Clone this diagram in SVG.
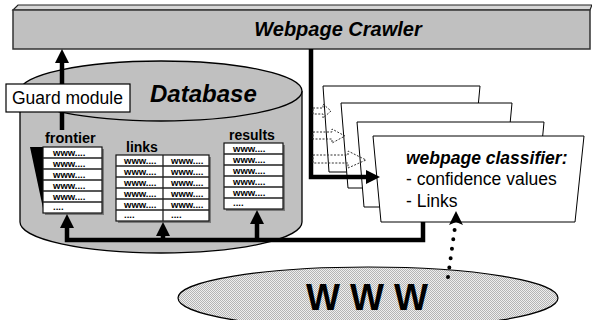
<svg xmlns="http://www.w3.org/2000/svg" width="592" height="320" viewBox="0 0 592 320">
<defs>
<style>
.lbl{font-family:"Liberation Sans",Arial,sans-serif;fill:#000}
.bi{font-weight:bold;font-style:italic}
.b{font-weight:bold}
.cell{font-family:"Liberation Sans",Arial,sans-serif;font-weight:bold;font-size:9.5px;fill:#000}
.tbl{fill:#fff;stroke:#111;stroke-width:1.2}
.row{stroke:#222;stroke-width:1.3}
.shadow{fill:#7a7a7a}
.card{fill:#fff;stroke:#000;stroke-width:1}
.thick{fill:none;stroke:#000;stroke-width:4.5}
.darr{fill:none;stroke:#333;stroke-width:1;stroke-dasharray:2 1.5}
</style>
<marker id="ah" viewBox="0 -7 14 14" refX="0" refY="0" markerWidth="14" markerHeight="14" markerUnits="userSpaceOnUse" orient="auto">
<path d="M0,-7 L14,0 L0,7 z" fill="#000"/>
</marker>
<pattern id="dots" width="2" height="2" patternUnits="userSpaceOnUse">
<rect width="2" height="2" fill="#eeeeee"/>
<rect width="1" height="1" fill="#b4b4b4"/>
<rect x="1" y="1" width="1" height="1" fill="#b4b4b4"/>
</pattern>
</defs>

<g id="crawler">
<polygon points="13,10 18,5 592,5 590,10" fill="#d6d6d6" stroke="#222" stroke-width="1.2"/>
<rect x="13" y="10" width="577" height="39" fill="#c0c0c0" stroke="#333" stroke-width="1.5"/>
<text class="lbl bi" x="338" y="36" font-size="20" text-anchor="middle">Webpage Crawler</text>
</g>

<g id="database">
<path d="M20,91 V222 A141,31 0 0 0 302,222 V91" fill="#c0c0c0" stroke="#000" stroke-width="1.3"/>
<ellipse cx="161" cy="91" rx="141" ry="30" fill="#c0c0c0" stroke="#000" stroke-width="1.3"/>
<text class="lbl bi" x="150" y="102" font-size="24">Database</text>
</g>

<g id="frontier">
<polygon points="30,147 44,147 44,213" fill="#000"/>
<rect class="shadow" x="45" y="149" width="59" height="66"/>
<rect class="tbl" x="43" y="147" width="59" height="66"/>
<path class="row" d="M43,158H102M43,169H102M43,180H102M43,191H102M43,202H102"/>
<text class="lbl b" x="45" y="143" font-size="14.5">frontier</text>
<text class="cell" x="53" y="155.5">www....</text>
<text class="cell" x="53" y="166.5">www....</text>
<text class="cell" x="53" y="177.5">www....</text>
<text class="cell" x="53" y="188.5">www....</text>
<text class="cell" x="53" y="199.5">www....</text>
<text class="cell" x="53" y="209.5">....</text>
</g>

<g id="links">
<rect class="shadow" x="118" y="157" width="93" height="66"/>
<rect class="tbl" x="116" y="155" width="93" height="66"/>
<path class="row" d="M116,166H209M116,177H209M116,188H209M116,199H209M116,210H209M163,155V221"/>
<text class="lbl b" x="126" y="152" font-size="14">links</text>
<text class="cell" x="124" y="163.5">www....</text>
<text class="cell" x="124" y="174.5">www....</text>
<text class="cell" x="124" y="185.5">www....</text>
<text class="cell" x="124" y="196.5">www....</text>
<text class="cell" x="124" y="207.5">www....</text>
<text class="cell" x="124" y="217.5">....</text>
<text class="cell" x="171" y="163.5">www....</text>
<text class="cell" x="171" y="174.5">www....</text>
<text class="cell" x="171" y="185.5">www....</text>
<text class="cell" x="171" y="196.5">www....</text>
<text class="cell" x="171" y="207.5">www....</text>
<text class="cell" x="171" y="217.5">....</text>
</g>

<g id="results">
<rect class="shadow" x="226" y="145" width="59" height="66"/>
<rect class="tbl" x="224" y="143" width="59" height="66"/>
<path class="row" d="M224,154H283M224,165H283M224,176H283M224,187H283M224,198H283"/>
<text class="lbl b" x="229" y="140" font-size="14">results</text>
<text class="cell" x="233" y="151.5">www....</text>
<text class="cell" x="233" y="162.5">www....</text>
<text class="cell" x="233" y="173.5">www....</text>
<text class="cell" x="233" y="184.5">www....</text>
<text class="cell" x="233" y="195.5">www....</text>
<text class="cell" x="233" y="205.5">....</text>
</g>

<g id="classifier">
<polygon class="card" points="323,86 480,86 472,172 329,172"/>
<polygon class="card" points="341,103 512,103 504,188 348,188"/>
<polygon class="card" points="357,122 544,122 536,207 364,207"/>
<polygon class="card" points="373,136 584,136 575,222 381,222"/>
<text class="lbl bi" x="406" y="164" font-size="17.5">webpage classifier:</text>
<text class="lbl" x="406" y="185" font-size="17.5">- confidence values</text>
<text class="lbl" x="406" y="207" font-size="17.5">- Links</text>
</g>

<g id="www">
<ellipse cx="368" cy="298" rx="190" ry="31" fill="url(#dots)" stroke="#000" stroke-width="1.2"/>
<text class="lbl b" x="367" y="310" font-size="36" text-anchor="middle">W W W</text>
</g>

<g id="connectors">
<path class="thick" d="M62,130 V63" marker-end="url(#ah)"/>
<path class="thick" d="M311,49 V177 H366" marker-end="url(#ah)"/>
<path class="thick" d="M423,222 V240 H67 V228" marker-end="url(#ah)"/>
<path class="thick" d="M163,240 V236" marker-end="url(#ah)"/>
<path class="thick" d="M257,240 V224" marker-end="url(#ah)"/>
<path d="M448,277 L455,227" fill="none" stroke="#000" stroke-width="4" stroke-linecap="round" stroke-dasharray="0 9.5"/>
<polygon points="456,211 463,225 456,222 449,225" fill="#000"/>
<polygon class="darr" points="313,108 323,108 323,104 331,111 323,118 323,114 313,114"/>
<polygon class="darr" points="313,132 332,132 332,129 345,136 332,143 332,139 313,139"/>
<polygon class="darr" points="313,155 348,155 348,151 366,160 348,168 348,163 313,163"/>
</g>

<g id="guard">
<rect x="6" y="84" width="124" height="28" fill="#fff" stroke="#000" stroke-width="1.2"/>
<text class="lbl" x="12" y="104" font-size="17.5">Guard module</text>
</g>
</svg>
